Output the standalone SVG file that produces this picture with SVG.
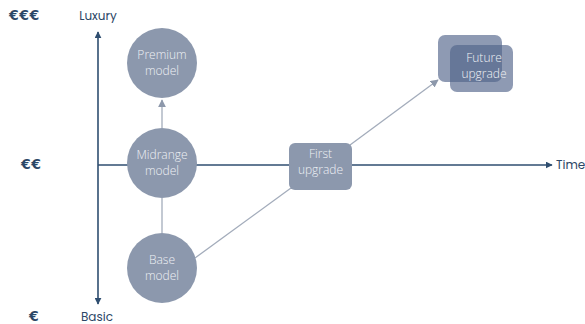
<svg xmlns="http://www.w3.org/2000/svg" width="585" height="324" viewBox="0 0 585 324">
<style>
.ax{font-family:"Poppins","Open Sans","Liberation Sans",sans-serif;font-size:12px;fill:#2c4766}
.cur{font-family:"DejaVu Sans",sans-serif;font-size:14px;font-weight:bold;fill:#2c4766;letter-spacing:0.5px}
.nt{font-family:"Open Sans","Liberation Sans",sans-serif;font-weight:300;font-size:12px;fill:#eef1f5;text-anchor:middle}
.circ{fill:#8c98ad}
.con{stroke:#a3acbb;stroke-width:1.3;fill:none}
.axis{stroke:#2f4e70;stroke-width:1.6;fill:none}
.fut{fill:#52648a;opacity:0.65}
</style>
<defs>
<marker id="ah" viewBox="0 0 10 10" refX="9" refY="5" markerWidth="7" markerHeight="7" orient="auto" markerUnits="userSpaceOnUse">
<path d="M0,0 L10,5 L0,10 z" fill="#2f4e70"/>
</marker>
<marker id="gh" viewBox="0 0 10 10" refX="9" refY="5" markerWidth="8" markerHeight="8" orient="auto" markerUnits="userSpaceOnUse">
<path d="M0,0 L10,5 L0,10 z" fill="#8d98ab"/>
</marker>
</defs>
<g id="axes">
<line class="axis" x1="98" y1="165" x2="98" y2="32" marker-end="url(#ah)"/>
<line class="axis" x1="98" y1="165" x2="98" y2="304" marker-end="url(#ah)"/>
<line class="axis" x1="98" y1="165" x2="552" y2="165" marker-end="url(#ah)"/>
<text class="cur" x="9" y="20">€€€</text>
<text class="ax" x="98" y="20" text-anchor="middle">Luxury</text>
<text class="cur" x="21" y="169">€€</text>
<text class="ax" x="556" y="169" font-size="11.5">Time</text>
<text class="cur" x="29" y="321">€</text>
<text class="ax" x="97" y="321" text-anchor="middle">Basic</text>
</g>
<g id="connectors">
<line class="con" x1="162" y1="128" x2="162" y2="100" marker-end="url(#gh)"/>
<line class="con" x1="162" y1="233" x2="162" y2="198"/>
<line class="con" x1="195" y1="258" x2="291" y2="188"/>
<line class="con" x1="350" y1="145" x2="438" y2="80" marker-end="url(#gh)"/>
</g>
<g id="premium">
<circle class="circ" cx="162" cy="63" r="35"/>
<text class="nt" x="162" y="59">Premium</text>
<text class="nt" x="162" y="75">model</text>
</g>
<g id="midrange">
<circle class="circ" cx="162" cy="163" r="35"/>
<text class="nt" x="162" y="159">Midrange</text>
<text class="nt" x="162" y="175">model</text>
</g>
<g id="base">
<circle class="circ" cx="162" cy="268" r="35"/>
<text class="nt" x="162" y="264">Base</text>
<text class="nt" x="162" y="280">model</text>
</g>
<g id="first">
<rect class="circ" x="289" y="143" width="63" height="47" rx="6"/>
<text class="nt" x="320.5" y="158">First</text>
<text class="nt" x="320.5" y="174">upgrade</text>
</g>
<g id="future">
<rect class="fut" x="438" y="35" width="64" height="47" rx="7"/>
<rect class="fut" x="450" y="45" width="63" height="47" rx="7"/>
<text class="nt" x="484" y="62">Future</text>
<text class="nt" x="484" y="78">upgrade</text>
</g>
</svg>
